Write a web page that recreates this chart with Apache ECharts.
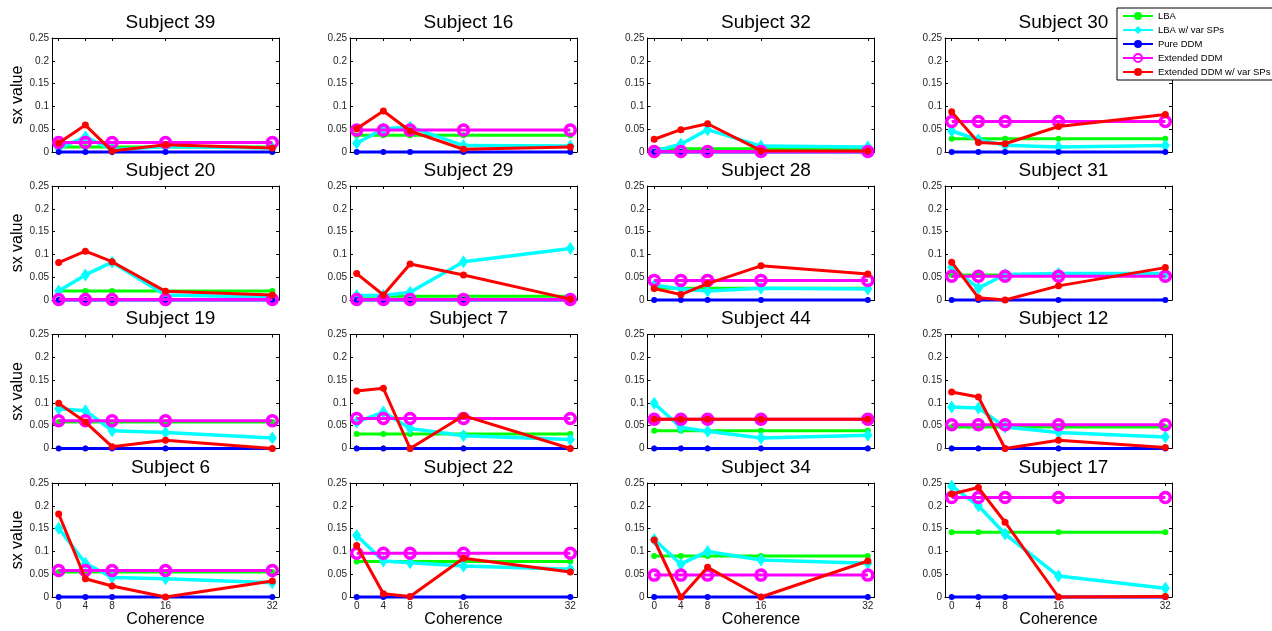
<!DOCTYPE html>
<html>
<head>
<meta charset="utf-8">
<script src="https://cdn.jsdelivr.net/npm/echarts@6/dist/echarts.min.js"></script>
<style>
  html, body { margin: 0; padding: 0; background: #fff; }
  #chart { width: 1272px; height: 631px; }
</style>
</head>
<body>
<div id="chart"></div>
<script>
// Coherence levels on the x axis
const coherence = [0, 4, 8, 16, 32];

// One panel per subject, in reading order
const subjects = [
  'Subject 39', 'Subject 16', 'Subject 32', 'Subject 30',
  'Subject 20', 'Subject 29', 'Subject 28', 'Subject 31',
  'Subject 19', 'Subject 7', 'Subject 44', 'Subject 12',
  'Subject 6', 'Subject 22', 'Subject 34', 'Subject 17'
];

const modelNames = ['LBA', 'LBA w/ var SPs', 'Pure DDM', 'Extended DDM', 'Extended DDM w/ var SPs'];

// sx values per subject, one row per panel, one column per coherence level
const lba = [
  [0.011, 0.011, 0.011, 0.011, 0.011],
  [0.037, 0.037, 0.037, 0.037, 0.037],
  [0.007, 0.007, 0.007, 0.007, 0.007],
  [0.029, 0.029, 0.029, 0.029, 0.029],
  [0.020, 0.020, 0.020, 0.020, 0.020],
  [0.008, 0.008, 0.008, 0.008, 0.008],
  [0.026, 0.026, 0.026, 0.026, 0.026],
  [0.055, 0.055, 0.055, 0.055, 0.055],
  [0.058, 0.058, 0.058, 0.058, 0.058],
  [0.032, 0.032, 0.032, 0.032, 0.032],
  [0.039, 0.039, 0.039, 0.039, 0.039],
  [0.047, 0.047, 0.047, 0.047, 0.047],
  [0.055, 0.055, 0.055, 0.055, 0.055],
  [0.078, 0.078, 0.078, 0.078, 0.078],
  [0.090, 0.090, 0.090, 0.090, 0.090],
  [0.142, 0.142, 0.142, 0.142, 0.142]
];

const lbaVarSPs = [
  [0.008, 0.033, 0.005, 0.012, 0.009],
  [0.019, 0.051, 0.055, 0.014, 0.013],
  [0.002, 0.017, 0.049, 0.013, 0.011],
  [0.046, 0.027, 0.015, 0.011, 0.014],
  [0.020, 0.055, 0.083, 0.011, 0.006],
  [0.010, 0.010, 0.017, 0.084, 0.113],
  [0.033, 0.024, 0.020, 0.026, 0.024],
  [0.072, 0.026, 0.056, 0.058, 0.058],
  [0.087, 0.083, 0.039, 0.035, 0.023],
  [0.058, 0.080, 0.044, 0.028, 0.020],
  [0.099, 0.046, 0.038, 0.023, 0.029],
  [0.091, 0.089, 0.047, 0.035, 0.025],
  [0.151, 0.074, 0.043, 0.040, 0.031],
  [0.135, 0.079, 0.075, 0.068, 0.061],
  [0.126, 0.072, 0.100, 0.081, 0.074],
  [0.243, 0.200, 0.138, 0.046, 0.019]
];

const pureDDM = [
  [0, 0, 0, 0, 0], [0, 0, 0, 0, 0], [0, 0, 0, 0, 0], [0, 0, 0, 0, 0],
  [0, 0, 0, 0, 0], [0, 0, 0, 0, 0], [0, 0, 0, 0, 0], [0, 0, 0, 0, 0],
  [0, 0, 0, 0, 0], [0, 0, 0, 0, 0], [0, 0, 0, 0, 0], [0, 0, 0, 0, 0],
  [0, 0, 0, 0, 0], [0, 0, 0, 0, 0], [0, 0, 0, 0, 0], [0, 0, 0, 0, 0]
];

const extendedDDM = [
  [0.021, 0.021, 0.021, 0.021, 0.021],
  [0.048, 0.048, 0.048, 0.048, 0.048],
  [0.001, 0.001, 0.001, 0.001, 0.001],
  [0.067, 0.067, 0.067, 0.067, 0.067],
  [0.001, 0.001, 0.001, 0.001, 0.001],
  [0.001, 0.001, 0.001, 0.001, 0.001],
  [0.043, 0.043, 0.043, 0.043, 0.043],
  [0.052, 0.052, 0.052, 0.052, 0.052],
  [0.061, 0.061, 0.061, 0.061, 0.061],
  [0.066, 0.066, 0.066, 0.066, 0.066],
  [0.064, 0.064, 0.064, 0.064, 0.064],
  [0.052, 0.052, 0.052, 0.052, 0.052],
  [0.058, 0.058, 0.058, 0.058, 0.058],
  [0.096, 0.096, 0.096, 0.096, 0.096],
  [0.048, 0.048, 0.048, 0.048, 0.048],
  [0.218, 0.218, 0.218, 0.218, 0.218]
];

const extendedDDMVarSPs = [
  [0.020, 0.059, 0.002, 0.016, 0.009],
  [0.051, 0.090, 0.046, 0.006, 0.011],
  [0.028, 0.049, 0.062, 0.003, 0.002],
  [0.088, 0.021, 0.018, 0.056, 0.082],
  [0.082, 0.107, 0.084, 0.019, 0.011],
  [0.058, 0.011, 0.079, 0.055, 0.002],
  [0.025, 0.012, 0.036, 0.075, 0.057],
  [0.083, 0.005, 0.000, 0.031, 0.071],
  [0.099, 0.058, 0.004, 0.018, 0.000],
  [0.126, 0.132, 0.000, 0.072, 0.000],
  [0.064, 0.064, 0.064, 0.064, 0.064],
  [0.124, 0.113, 0.000, 0.018, 0.002],
  [0.182, 0.040, 0.024, 0.000, 0.035],
  [0.113, 0.007, 0.001, 0.085, 0.055],
  [0.125, 0.000, 0.065, 0.000, 0.079],
  [0.226, 0.240, 0.164, 0.000, 0.001]
];

const modelData = [lba, lbaVarSPs, pureDDM, extendedDDM, extendedDDMVarSPs];

// Panel layout (pixels)
const colLeft = [52, 350, 647.5, 945];
const rowTop = [38, 186, 334.5, 483];
const panelW = 227;
const panelH = 114;
const FONT = '"Liberation Sans", Arial, Helvetica, sans-serif';

// Line and marker styling for each model
const modelStyle = [
  { color: '#00ff00', symbol: 'circle', symbolSize: 6, width: 3, fill: '#00ff00', border: 0 },
  { color: '#00ffff', symbol: 'diamond', symbolSize: [9, 13], width: 3.5, fill: '#00ffff', border: 0 },
  { color: '#0000ff', symbol: 'circle', symbolSize: 6, width: 3, fill: '#0000ff', border: 0 },
  { color: '#ff00ff', symbol: 'circle', symbolSize: 10, width: 3, fill: 'rgba(255,0,255,0)', border: 3.5 },
  { color: '#ff0000', symbol: 'circle', symbolSize: 7, width: 3, fill: '#ff0000', border: 0 }
];

const grid = [], xAxis = [], yAxis = [], series = [], title = [];

subjects.forEach((name, i) => {
  const r = Math.floor(i / 4), c = i % 4;
  const isBottom = r === 3, isLeft = c === 0;

  grid.push({ left: colLeft[c], top: rowTop[r], width: panelW, height: panelH, outerBoundsMode: 'none' });

  title.push({
    text: name,
    left: colLeft[c] + panelW / 2,
    top: rowTop[r] - 30,
    textAlign: 'center',
    textStyle: { fontSize: 19, fontWeight: 'normal', color: '#000', fontFamily: FONT }
  });

  const tickStyle = { lineStyle: { color: '#000', width: 1 } };

  // bottom and top x axes (top one only mirrors ticks)
  ['bottom', 'top'].forEach(pos => {
    xAxis.push({
      gridIndex: i, type: 'value', min: -1, max: 33, position: pos,
      axisLine: { show: true, onZero: false, lineStyle: { color: '#000', width: 1 } },
      axisTick: { show: true, inside: true, length: 3, customValues: coherence, ...tickStyle },
      axisLabel: {
        show: pos === 'bottom' && isBottom, customValues: coherence,
        fontSize: 10, color: '#262626', margin: 4, fontFamily: FONT
      },
      splitLine: { show: false },
      name: pos === 'bottom' && isBottom ? 'Coherence' : '',
      nameLocation: 'middle', nameGap: 14,
      nameTextStyle: { fontSize: 16, color: '#000', fontFamily: FONT }
    });
  });

  // left and right y axes (right one only mirrors ticks)
  ['left', 'right'].forEach(pos => {
    yAxis.push({
      gridIndex: i, type: 'value', min: 0, max: 0.25, interval: 0.05, position: pos,
      axisLine: { show: true, onZero: false, lineStyle: { color: '#000', width: 1 } },
      axisTick: { show: true, inside: true, length: 3, ...tickStyle },
      axisLabel: { show: pos === 'left', fontSize: 10, color: '#262626', margin: 3, fontFamily: FONT },
      splitLine: { show: false },
      name: pos === 'left' && isLeft ? 'sx value' : '',
      nameLocation: 'middle', nameGap: 26,
      nameTextStyle: { fontSize: 16, color: '#000', fontFamily: FONT }
    });
  });

  modelNames.forEach((m, k) => {
    const st = modelStyle[k];
    series.push({
      name: m,
      type: 'line',
      xAxisIndex: 2 * i,
      yAxisIndex: 2 * i,
      data: coherence.map((x, j) => [x, modelData[k][i][j]]),
      symbol: st.symbol,
      symbolSize: st.symbolSize,
      showSymbol: true,
      clip: false,
      z: 2 + k,
      lineStyle: { color: st.color, width: st.width },
      itemStyle: { color: st.fill, borderColor: st.color, borderWidth: st.border },
      emphasis: { disabled: true }
    });
  });
});

const chart = echarts.init(document.getElementById('chart'), null, { renderer: 'canvas' });
chart.setOption({
  animation: false,
  backgroundColor: '#fff',
  textStyle: { fontFamily: FONT },
  title,
  grid,
  xAxis,
  yAxis,
  legend: {
    data: modelNames,
    orient: 'vertical',
    left: 1117,
    top: 8,
    itemWidth: 30,
    itemHeight: 10,
    itemGap: 4,
    padding: [3, 5, 3, 5],
    backgroundColor: '#fff',
    borderColor: '#000',
    borderWidth: 1,
    borderRadius: 0,
    textStyle: { fontSize: 9.5, color: '#000', fontFamily: FONT },
    selectedMode: false,
    z: 20
  },
  series
});
</script>
</body>
</html>
